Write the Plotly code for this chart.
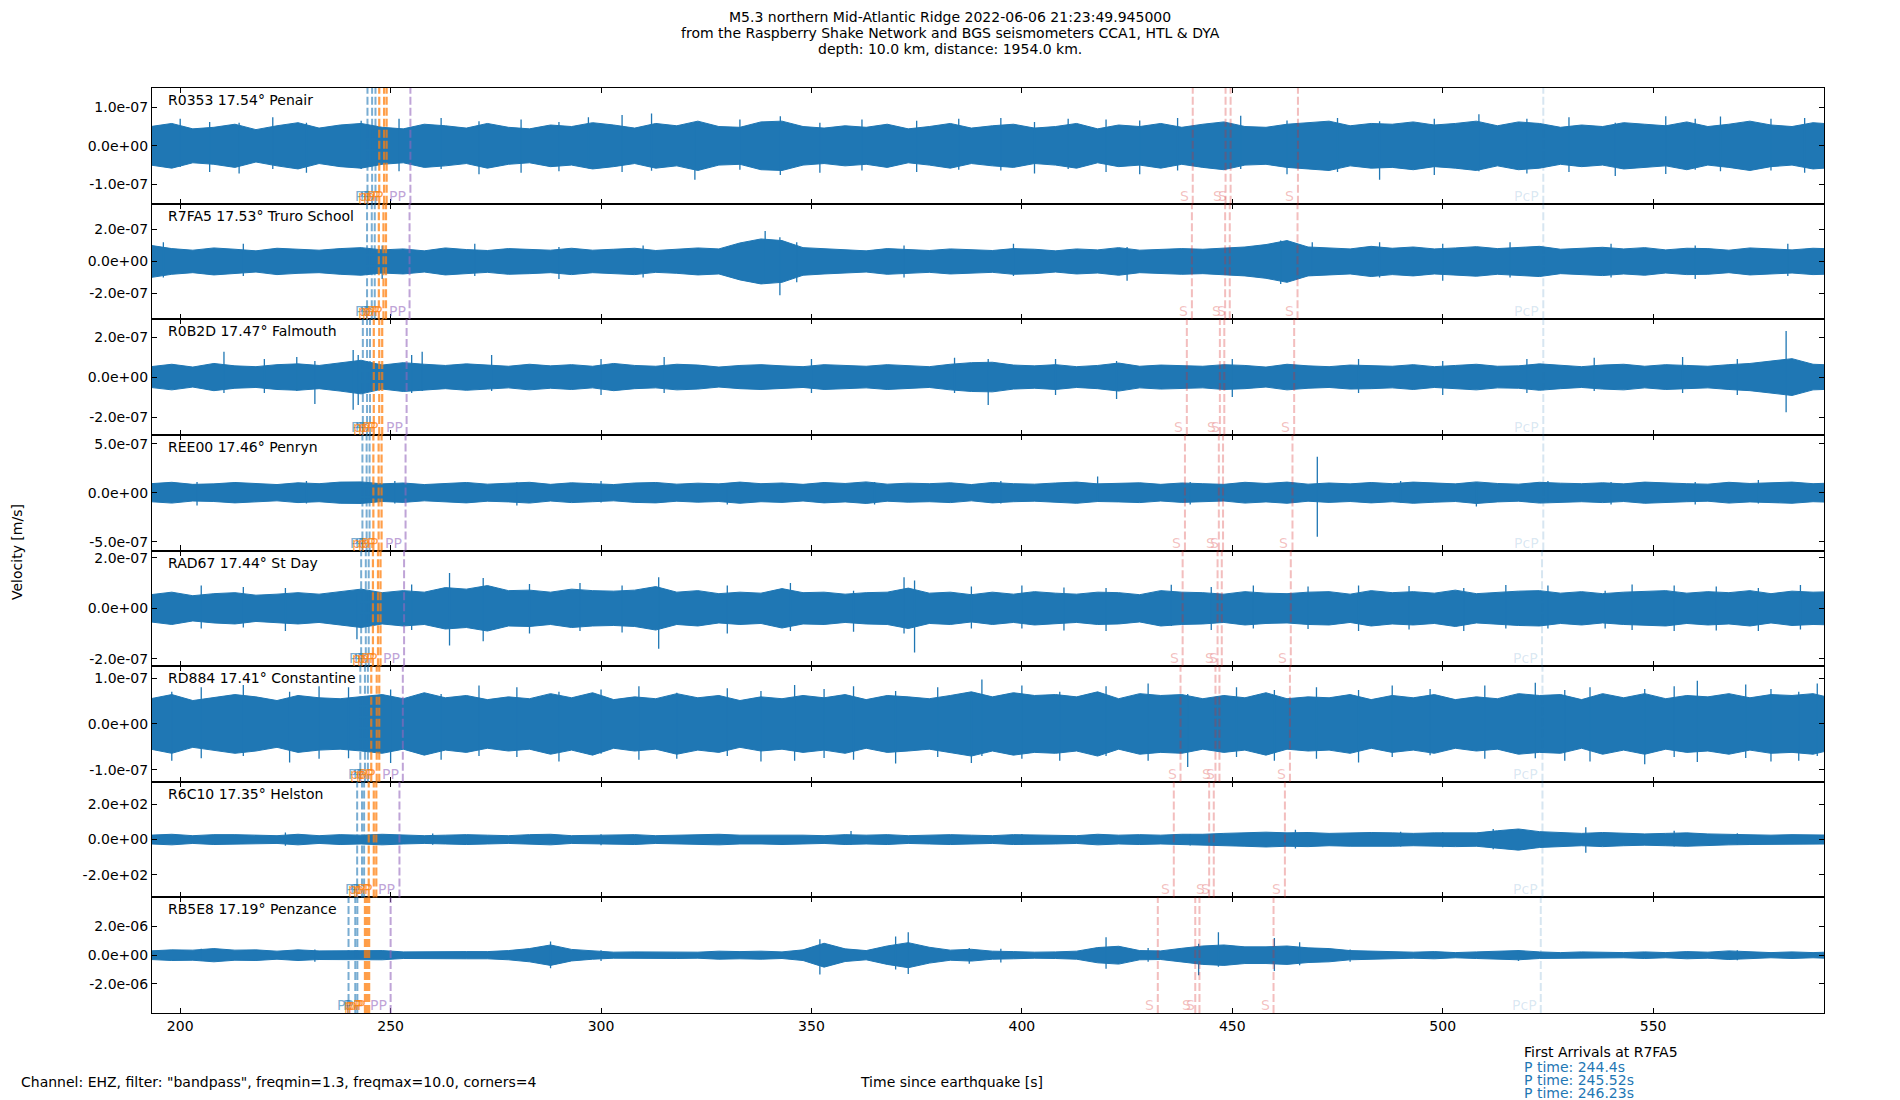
import plotly.graph_objects as go
from plotly.subplots import make_subplots

# stations, top to bottom
stations = ["R0353", "R7FA5", "R0B2D", "REE00", "RAD67", "RD884", "R6C10", "RB5E8"]
distances = [17.54, 17.53, 17.47, 17.46, 17.44, 17.41, 17.35, 17.19]
places = ["Penair", "Truro School", "Falmouth", "Penryn", "St Day", "Constantine", "Helston", "Penzance"]

# y limits (+/-) and tick step per panel
y_half = [1.5e-7, 3.6e-7, 2.89e-7, 5.9e-7, 2.29e-7, 1.26e-7, 328, 4.02e-6]
tick_step = [1e-7, 2e-7, 2e-7, 5e-7, 2e-7, 1e-7, 200, 2e-6]
tick_text = [
    ["-1.0e-07", "0.0e+00", "1.0e-07"],
    ["-2.0e-07", "0.0e+00", "2.0e-07"],
    ["-2.0e-07", "0.0e+00", "2.0e-07"],
    ["-5.0e-07", "0.0e+00", "5.0e-07"],
    ["-2.0e-07", "0.0e+00", "2.0e-07"],
    ["-1.0e-07", "0.0e+00", "1.0e-07"],
    ["-2.0e+02", "0.0e+00", "2.0e+02"],
    ["-2.0e-06", "0.0e+00", "2.0e-06"],
]
x_ticks = [200, 250, 300, 350, 400, 450, 500, 550]
x_range = [193.3, 590.6]

# trace envelope every 5 s (units given in amp_unit)
t_grid = list(range(193, 598, 5))
amp_unit = [1e-8, 1e-8, 1e-8, 1e-7, 1e-8, 1e-8, 1, 1e-6]

amp_r0353 = [5.0, 5.8, 4.4, 4.8, 5.6, 4.2, 5.2, 6.0, 4.6, 5.4,
             5.8, 4.8, 4.4, 5.6, 5.2, 4.6, 5.8, 4.8, 4.4, 5.4,
             5.0, 6.0, 5.4, 4.6, 5.8, 5.2, 6.4, 5.0, 4.8, 6.2,
             6.4, 5.0, 4.6, 5.2, 4.8, 5.6, 4.4, 5.0, 5.8, 4.6,
             5.2, 5.6, 4.6, 5.0, 5.8, 4.4, 5.4, 5.0, 5.8, 4.8,
             5.6, 6.2, 5.0, 4.8, 5.6, 6.0, 6.4, 5.2, 5.8, 5.6,
             6.2, 5.4, 5.8, 6.4, 5.2, 6.2, 5.8, 4.8, 5.4, 5.0,
             6.0, 5.6, 5.2, 6.2, 5.0, 5.6, 6.4, 5.4, 5.0, 6.0, 5.6]
amp_r7fa5 = [10.0, 8.0, 7.0, 8.4, 7.6, 6.6, 8.2, 7.4, 7.0, 8.0,
             8.6, 7.2, 7.8, 6.6, 8.4, 7.4, 6.8, 8.0, 7.6, 7.0,
             8.2, 7.0, 7.6, 8.2, 6.8, 7.4, 8.4, 7.8, 11.5, 14.0,
             13.0, 8.6, 7.8, 7.0, 6.6, 8.0, 7.2, 6.8, 7.8, 7.2,
             6.8, 8.0, 7.6, 6.6, 7.8, 7.2, 8.6, 7.0, 7.4, 8.0,
             7.6, 8.2, 9.0, 10.5, 13.0, 9.0, 8.4, 7.8, 9.4, 8.2,
             9.0, 7.8, 8.4, 9.2, 8.0, 8.8, 9.4, 7.6, 8.4, 8.8,
             7.8, 8.6, 7.2, 8.2, 8.0, 7.0, 8.4, 7.6, 7.2, 8.2, 7.8]
amp_r0b2d = [5.2, 6.4, 5.0, 6.8, 5.6, 5.2, 6.2, 6.6, 5.8, 7.0,
             8.4, 6.0, 7.2, 6.4, 5.8, 6.6, 6.0, 5.4, 6.4, 5.6,
             6.2, 5.4, 6.8, 5.8, 5.4, 6.4, 6.0, 5.0, 5.8, 6.2,
             5.6, 5.2, 6.2, 5.8, 5.4, 6.2, 5.6, 5.2, 6.4, 7.2,
             7.4, 6.0, 5.6, 6.2, 5.2, 5.8, 7.0, 5.4, 6.0, 5.6,
             5.4, 6.2, 5.8, 5.0, 6.4, 5.6, 5.2, 6.0, 5.8, 5.4,
             6.2, 5.2, 5.8, 6.4, 5.4, 5.6, 6.6, 5.8, 5.2, 6.0,
             6.4, 5.4, 6.2, 5.8, 5.4, 6.2, 6.8, 8.0, 9.2, 6.4, 6.0]
amp_ree00 = [0.92, 1.06, 0.85, 0.90, 1.04, 0.97, 0.83, 1.01, 0.92, 1.08,
             1.10, 0.90, 0.99, 0.83, 0.97, 1.04, 0.87, 0.94, 1.06, 0.85,
             1.01, 0.92, 0.83, 0.99, 1.04, 0.87, 0.97, 0.90, 1.08, 0.92,
             0.99, 0.85, 1.04, 0.94, 1.10, 0.87, 0.97, 0.92, 1.01, 0.83,
             1.04, 0.92, 0.87, 0.99, 1.08, 0.90, 0.94, 1.01, 0.85, 0.99,
             0.92, 0.85, 1.06, 0.94, 1.08, 0.87, 0.99, 0.90, 1.04, 0.92,
             1.08, 0.97, 0.90, 1.10, 0.94, 0.87, 1.06, 0.97, 0.92, 1.01,
             0.90, 1.08, 0.97, 0.92, 0.87, 1.06, 0.94, 1.01, 1.08, 0.92, 0.99]
amp_rad67 = [5.4, 6.4, 5.0, 5.8, 6.2, 5.2, 5.6, 6.2, 5.6, 6.6,
             7.6, 6.2, 7.0, 6.4, 8.2, 7.6, 9.0, 7.0, 7.2, 6.4,
             7.6, 7.0, 6.8, 7.2, 8.6, 6.4, 7.0, 5.8, 6.4, 6.0,
             7.8, 6.2, 6.4, 5.6, 6.2, 6.4, 8.0, 6.0, 6.4, 5.4,
             6.4, 5.6, 6.6, 6.0, 5.6, 6.4, 6.2, 5.4, 7.0, 6.4,
             6.2, 5.6, 6.6, 6.0, 5.8, 6.4, 6.6, 5.6, 7.0, 6.2,
             6.6, 6.0, 7.2, 5.8, 6.4, 6.8, 7.0, 6.0, 6.6, 5.8,
             6.4, 6.8, 7.0, 6.0, 6.6, 6.2, 7.0, 5.8, 6.8, 6.4, 6.6]
amp_rd884 = [5.5, 6.4, 5.1, 5.7, 6.4, 5.9, 5.1, 6.2, 5.7, 5.5,
             5.9, 6.4, 5.5, 6.8, 5.7, 6.2, 5.3, 5.9, 5.5, 6.6,
             5.7, 6.8, 5.3, 5.9, 5.5, 6.6, 5.7, 6.2, 5.1, 5.9,
             5.5, 6.2, 5.7, 6.4, 5.3, 6.2, 5.9, 5.5, 6.2, 7.0,
             5.9, 6.8, 6.2, 6.4, 5.9, 7.0, 5.5, 6.6, 6.2, 6.4,
             5.5, 6.2, 5.7, 6.8, 5.5, 5.9, 5.7, 6.4, 5.3, 6.2,
             5.7, 6.4, 5.3, 5.9, 5.5, 6.6, 6.2, 6.4, 5.3, 6.6,
             5.7, 6.6, 5.5, 6.2, 5.9, 6.6, 5.7, 6.4, 6.2, 6.6, 5.5]
amp_r6c10 = [25, 30, 22, 28, 28, 25, 22, 30, 22, 28,
             25, 30, 25, 22, 25, 28, 25, 22, 28, 30,
             22, 25, 25, 28, 22, 25, 28, 30, 25, 25,
             28, 25, 22, 28, 25, 28, 22, 25, 28, 25,
             22, 28, 25, 25, 22, 30, 25, 28, 25, 30,
             30, 35, 38, 42, 38, 40, 35, 38, 40, 38,
             35, 38, 40, 38, 50, 60, 45, 38, 35, 40,
             35, 32, 35, 38, 32, 30, 28, 25, 28, 25, 25]
amp_rb5e8 = [0.30, 0.37, 0.35, 0.46, 0.35, 0.37, 0.28, 0.37, 0.30, 0.32,
             0.30, 0.32, 0.23, 0.25, 0.23, 0.25, 0.25, 0.32, 0.46, 0.71,
             0.40, 0.28, 0.21, 0.23, 0.21, 0.23, 0.21, 0.28, 0.25, 0.28,
             0.23, 0.37, 0.83, 0.44, 0.32, 0.64, 0.87, 0.55, 0.35, 0.41,
             0.28, 0.25, 0.21, 0.23, 0.28, 0.53, 0.62, 0.32, 0.30, 0.48,
             0.64, 0.71, 0.58, 0.58, 0.64, 0.51, 0.46, 0.32, 0.30, 0.23,
             0.21, 0.25, 0.18, 0.23, 0.25, 0.32, 0.23, 0.18, 0.23, 0.18,
             0.18, 0.23, 0.18, 0.25, 0.21, 0.30, 0.23, 0.18, 0.23, 0.18, 0.23]
amplitudes = [amp_r0353, amp_r7fa5, amp_r0b2d, amp_ree00, amp_rad67, amp_rd884, amp_r6c10, amp_rb5e8]

# isolated spikes (time, top, bottom), same units
spikes_r0353 = [(200, 7.0, -5.5), (207, 6.2, -6.8), (214, 6.0, -7.2), (222, 7.4, -6.0), (230, 6.0, -7.0),
                (243, 6.5, -6.0), (252, 7.0, -6.6), (262, 7.2, -6.0), (271, 6.4, -7.4), (281, 6.8, -7.0),
                (290, 6.2, -6.6), (297, 7.4, -5.8), (305, 8.0, -6.8), (312, 8.4, -6.5), (322.3, 6.0, -8.8),
                (333, 6.8, -6.2), (342.6, 7.7, -7.6), (352, 6.0, -7.0), (362, 6.8, -6.4), (375, 6.5, -6.8),
                (385, 7.0, -6.2), (395, 7.2, -6.4), (403, 6.2, -7.2), (411, 7.0, -6.0), (420, 6.8, -6.8),
                (428, 6.6, -7.4), (437, 7.2, -6.4), (452, 7.8, -6.0), (463, 6.6, -7.4), (475, 7.2, -6.8),
                (485, 6.4, -8.8), (498, 7.0, -7.6), (508.6, 8.2, -6.6), (520, 7.0, -7.2), (530, 7.4, -6.8),
                (541, 6.0, -7.8), (553, 7.7, -7.3), (560, 7.0, -6.2), (566, 7.6, -6.6), (578, 7.0, -6.4),
                (586, 7.2, -7.0)]
spikes_r7fa5 = [(196, 12, -10), (215, 11, -9), (248, 10, -11), (270, 11, -9), (290, 9, -11), (310, 10, -10),
                (339, 19, -14), (342.5, 15, -21), (346.5, 12, -13), (372, 10, -10), (398, 11, -9), (425, 9, -12),
                (461.5, 13, -14), (469, 12, -9), (485, 12, -10), (500, 11, -12), (516, 12, -10), (540, 11, -10),
                (560, 10, -11), (582, 11, -9)]
spikes_r0b2d = [(210.4, 12.6, -8), (220, 9, -8), (227.7, 10, -7), (232, 8, -13.5), (241.1, 13.5, -16.4),
                (242.3, 11, -14), (255, 11, -8), (257.5, 12.6, -7), (274, 11, -7), (300, 9, -9), (315, 10, -8),
                (350, 9, -8), (384, 9.6, -8), (392, 9, -14), (408, 9, -9), (422.5, 8, -11), (450, 9, -10),
                (480, 9, -8), (500, 8, -9), (520, 9, -8), (536, 9.6, -7), (557, 10, -8), (570, 9, -9),
                (581.6, 23, -17.6)]
spikes_ree00 = [(204, 1.1, -1.3), (230, 1.2, -1.1), (251, 1.2, -1.1), (280, 1.1, -1.3), (300, 1.2, -1.0),
                (330, 1.0, -1.2), (365, 1.1, -1.2), (395, 1.2, -1.1), (418, 1.66, -0.9), (440, 1.1, -1.2),
                (470.2, 3.66, -4.5), (490, 1.2, -1.0), (508, 1.0, -1.4), (525, 1.2, -1.0), (540, 1.1, -1.2),
                (560, 1.1, -1.2), (575, 1.3, -1.1)]
spikes_rad67 = [(205, 9, -8), (215, 8.4, -7.6), (225, 8, -9), (242, 6, -12.3), (255, 9.4, -8.6),
                (264, 14, -14.7), (272, 12, -13), (283, 9.6, -10), (295, 10, -9), (305, 9, -9.6),
                (313.7, 12.3, -16), (330, 9, -10), (345, 10, -9), (360, 7, -9.3), (372, 12.3, -10),
                (374.5, 11, -17.5), (388, 8.6, -8), (400, 9, -8), (410, 8.2, -8.8), (420, 8, -9),
                (435.5, 9.3, -7), (445, 8.4, -8.6), (455, 9, -8), (468, 8.6, -8.2), (480, 9, -9),
                (492, 8.8, -8.4), (505, 8, -9), (515, 9.2, -8), (525, 9, -8), (538.6, 7, -8), (545, 9.4, -8.6),
                (555, 9, -9), (565, 8.6, -8.8), (575, 8, -9), (585, 9.2, -8.4)]
spikes_rd884 = [(198, 7, -8), (205, 8.0, -7.5), (215, 8.5, -7), (226, 7.0, -8.4), (233, 8.2, -7.6),
                (240, 8.0, -7.5), (250, 7.5, -8.5), (262, 6.5, -7.8), (271, 8.4, -7.0), (280, 8, -7.2),
                (290, 7.0, -8.2), (300, 7.5, -6.5), (309, 8.2, -7.8), (318, 6.8, -7.6), (330, 7.8, -7),
                (338, 7.2, -8.2), (346, 8.5, -8.0), (353, 7.6, -7.4), (360, 8.2, -7.8), (370, 7.2, -8.6),
                (380, 8.0, -7.2), (388, 6.0, -8.5), (390.5, 9.7, -7.0), (400, 8.4, -7.6), (409, 7.0, -8.0),
                (420, 8.2, -7.0), (430, 8.8, -8.0), (439.4, 6.5, -9.4), (451, 8.0, -7.2), (460, 7.4, -8.0),
                (470, 8.0, -7.6), (480, 7.4, -8.4), (488, 8.4, -7.2), (497, 7.6, -6.8), (510, 8.4, -7.6),
                (522, 9.0, -7.5), (529, 7.4, -8.0), (535, 8.0, -8.2), (548, 7.6, -8.8), (555, 8.2, -7.2),
                (560.5, 9.4, -8.3), (572, 8.6, -7.4), (578, 7.6, -8.2), (584.6, 7.0, -8.0), (589, 8.8, -7.0)]
spikes_r6c10 = [(225, 40, -35), (260, 34, -30), (300, 30, -32), (359.4, 49, -30), (400, 32, -30),
                (440, 30, -34), (465, 55, -50), (490, 45, -40), (500, 42, -44), (512, 60, -55),
                (534, 70, -75), (555, 50, -40), (570, 36, -30)]
spikes_rb5e8 = [(205, 0.45, -0.4), (232, 0.4, -0.45), (288, 0.95, -0.9), (300, 0.35, -0.4), (352, 1.1, -1.35),
                (370, 1.3, -1.0), (373, 1.6, -1.3), (387.5, 0.5, -0.6), (395, 0.45, -0.5), (420, 1.25, -0.95),
                (430, 0.5, -0.45), (442, 0.8, -1.4), (446.7, 1.6, -0.8), (460, 1.2, -1.1), (466, 0.9, -0.7),
                (478, 0.4, -0.45), (518, 0.35, -0.4), (570, 0.35, -0.35)]
spikes = [spikes_r0353, spikes_r7fa5, spikes_r0b2d, spikes_ree00, spikes_rad67, spikes_rd884, spikes_r6c10, spikes_rb5e8]

# predicted phase arrivals [s] per station
p_times = [[244.5, 245.6, 246.4], [244.4, 245.52, 246.23], [243.4, 244.4, 245.1], [243.3, 244.3, 245.0],
           [243.0, 244.1, 244.8], [242.8, 243.9, 244.6], [242.05, 243.2, 243.7], [240.0, 241.6, 242.1]]
pp_depth_times = [[247.3, 248.45, 249.05], [247.2, 248.3, 248.9], [246.0, 247.3, 248.0], [245.9, 247.15, 247.85],
                  [245.8, 247.0, 247.6], [245.4, 246.7, 247.3], [244.8, 246.0, 246.6], [243.9, 244.4, 244.9]]
pp_times = [[254.7], [254.5], [253.8], [253.55], [253.2], [252.9], [252.1], [250.0]]
s_times = [[440.6, 448.4, 449.6, 465.6], [440.4, 448.3, 449.4, 465.5], [439.2, 447.05, 448.1, 464.7],
           [438.75, 446.8, 447.8, 464.3], [438.2, 446.5, 447.5, 463.9], [437.7, 446.0, 446.95, 463.7],
           [436.1, 444.5, 445.6, 462.5], [432.3, 441.2, 442.2, 459.8]]
pcp_times = [[523.9], [523.9], [523.9], [523.9], [523.6], [523.7], [523.7], [523.3]]

BLUE = "#1f77b4"
phase_styles = [
    ("P", p_times, "rgba(31,119,180,0.6)", 2),
    ("pP", pp_depth_times, "rgba(255,127,14,0.75)", 2.2),
    ("PP", pp_times, "rgba(148,103,189,0.6)", 2),
    ("S", s_times, "rgba(214,39,40,0.3)", 2),
    ("PcP", pcp_times, "rgba(31,119,180,0.18)", 2),
]

FONT = "DejaVu Sans"
W, H = 1900, 1100
OFF = 8  # page body margin
ML, MR, MT, MB = 144, 84, 80, 95
PW, PH = W - ML - MR, H - MT - MB


def px(x):
    # screen pixel -> paper x
    return (x - OFF - ML) / PW


def py(y):
    # screen pixel (from top) -> paper y
    return (H - MB - (y - OFF)) / PH


fig = make_subplots(rows=8, cols=1, shared_xaxes=True, vertical_spacing=0)

for i in range(8):
    row = i + 1
    u = amp_unit[i]
    a = [v * u for v in amplitudes[i]]
    fig.add_trace(go.Scatter(
        x=t_grid + t_grid[::-1], y=a + [-v for v in a[::-1]],
        mode="lines", fill="toself", fillcolor=BLUE,
        line=dict(color=BLUE, width=1), hoverinfo="skip", showlegend=False,
    ), row=row, col=1)
    sx, sy = [], []
    for t, hi, lo in spikes[i]:
        sx += [t, t, None]
        sy += [hi * u, lo * u, None]
    fig.add_trace(go.Scatter(
        x=sx, y=sy, mode="lines", line=dict(color=BLUE, width=1.3),
        hoverinfo="skip", showlegend=False,
    ), row=row, col=1)

    xname = "x" if row == 1 else f"x{row}"
    yname = "y" if row == 1 else f"y{row}"

    # phase markers
    for name, times, col, lw in phase_styles:
        for t in times[i]:
            fig.add_shape(type="line", x0=t, x1=t, y0=0, y1=1, xref=xname, yref=f"{yname} domain",
                          line=dict(color=col, width=lw, dash="8px,3px"))
            fig.add_annotation(x=t, y=0, xref=xname, yref=f"{yname} domain", text=name,
                               showarrow=False, xanchor="right", yanchor="bottom", xshift=-2, yshift=-2,
                               font=dict(family=FONT, size=14, color=col))

    # station label
    fig.add_annotation(x=0, y=1, xref=f"{xname} domain", yref=f"{yname} domain",
                       text=f"{stations[i]} {distances[i]:.2f}° {places[i]}", showarrow=False,
                       xanchor="left", yanchor="top", xshift=14, yshift=-2,
                       font=dict(family=FONT, size=14, color="black"))

    s = tick_step[i]
    fig.update_yaxes(range=[-y_half[i], y_half[i]], tickvals=[-s, 0, s], ticktext=tick_text[i],
                     row=row, col=1)

fig.update_xaxes(range=x_range, tickvals=x_ticks, ticks="inside", ticklen=5, tickwidth=1.1,
                 tickcolor="black", showline=True, linecolor="black", linewidth=1.2, mirror="ticks",
                 showgrid=False, zeroline=False, tickfont=dict(family=FONT, size=14, color="black"))
fig.update_yaxes(ticks="inside", ticklen=5, tickwidth=1.1, tickcolor="black", showline=True,
                 linecolor="black", linewidth=1.2, mirror="ticks", showgrid=False, zeroline=False,
                 tickfont=dict(family=FONT, size=14, color="black"))

# title lines
title_lines = ["M5.3 northern Mid-Atlantic Ridge 2022-06-06 21:23:49.945000",
               "from the Raspberry Shake Network and BGS seismometers CCA1, HTL & DYA",
               "depth: 10.0 km, distance: 1954.0 km."]
for k, line in enumerate(title_lines):
    fig.add_annotation(x=px(950), y=py(17 + 16 * k), xref="paper", yref="paper", text=line,
                       showarrow=False, xanchor="center", yanchor="middle",
                       font=dict(family=FONT, size=14, color="black"))

txt = dict(xref="paper", yref="paper", showarrow=False, yanchor="middle")
fig.add_annotation(x=px(17), y=py(552), text="Velocity [m/s]", textangle=-90, xanchor="center",
                   font=dict(family=FONT, size=14, color="black"), **txt)
fig.add_annotation(x=px(951), y=py(1082), text="Time since earthquake [s]", xanchor="center",
                   font=dict(family=FONT, size=14, color="black"), **txt)
fig.add_annotation(x=px(19), y=py(1082),
                   text='Channel: EHZ, filter: "bandpass", freqmin=1.3, freqmax=10.0, corners=4',
                   xanchor="left", font=dict(family=FONT, size=14, color="black"), **txt)
fig.add_annotation(x=px(1522), y=py(1052), text="First Arrivals at R7FA5", xanchor="left",
                   font=dict(family=FONT, size=14, color="black"), **txt)
for k, t in enumerate(p_times[1]):
    fig.add_annotation(x=px(1522), y=py(1066.5 + 13.3 * k), text=f"P time: {t}s", xanchor="left",
                       font=dict(family=FONT, size=14, color=BLUE), **txt)

fig.update_layout(width=W, height=H, margin=dict(l=ML, r=MR, t=MT, b=MB),
                  plot_bgcolor="white", paper_bgcolor="white", showlegend=False,
                  font=dict(family=FONT, size=14, color="black"))

fig.write_html("out.html")
